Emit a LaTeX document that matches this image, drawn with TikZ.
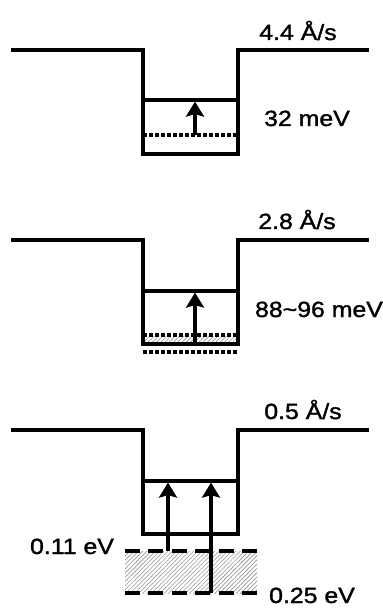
\documentclass[tikz,border=0pt]{standalone}
\usepackage{fontspec}
\setmainfont{Liberation Sans}
\newfontfamily\lblfont{Liberation Sans}[FakeBold=1.4]
\usetikzlibrary{arrows.meta,patterns.meta}
\tikzset{
  well/.style={line width=3.6pt, line join=miter},
  level/.style={line width=3.4pt},
  dots/.style={line width=3.2pt, dash pattern=on 3.5pt off 2.5pt},
  dashes/.style={line width=4.2pt, dash pattern=on 15pt off 8.4pt},
  hatch/.style={pattern={Lines[angle=45,distance=3pt,line width=0.6pt]}, pattern color=gray!85},
  excite/.style={-{Stealth[length=15pt,width=18pt,inset=2.5pt]}, line width=3.3pt, shorten >=1.6pt},
  lbl/.style={font=\lblfont\fontsize{22}{24}\selectfont, anchor=base, inner sep=0pt, xscale=1.13}
}

\begin{document}
\begin{tikzpicture}[x=1pt, y=-1pt]
\useasboundingbox (0,0) rectangle (382,609);
% 4.4 A/s
\draw[well] (11,50) -| (143,154) -| (238,50) -- (369,50);
\draw[level] (143,100) -- (238,100);
\draw[dots] (143,135) -- (238,135);
\coordinate (low1) at (195,135);
\coordinate (up1) at (195,100);
\draw[excite] (low1) -- (up1);
\node[lbl] (rate1) at (298,40) {4.4 Å/s};
\node[lbl] (gap1) at (307,126) {32 meV};

% 2.8 A/s
\fill[hatch] (143,336) rectangle (238,343);
\draw[dots] (143,335) -- (238,335);
\draw[dots] (143,352) -- (238,352);
\draw[well] (11,240) -| (143,344) -| (238,240) -- (369,240);
\draw[level] (143,291) -- (238,291);
\coordinate (low2) at (195,344);
\coordinate (up2) at (195,291);
\draw[excite] (low2) -- (up2);
\node[lbl] (rate2) at (297,229) {2.8 Å/s};
\node[lbl] (gap2) at (319,317) {88\textasciitilde96 meV};

% 0.5 A/s
\draw[well] (11,430) -| (143,534) -| (238,430) -- (369,430);
\draw[level] (143,481) -- (238,481);
\fill[hatch] (125,551) rectangle (257,593);
\draw[dashes] (125,551) -- (257,551);
\draw[dashes] (125,593) -- (257,593);
\coordinate (low3a) at (168,551);
\coordinate (up3a) at (168,481);
\coordinate (low3b) at (211,593);
\coordinate (up3b) at (211,481);
\draw[excite] (low3a) -- (up3a);
\draw[excite] (low3b) -- (up3b);
\node[lbl] (rate3) at (303,419) {0.5 Å/s};
\node[lbl] (trap1) at (72,554) {0.11 eV};
\node[lbl] (trap2) at (312,603) {0.25 eV};
\end{tikzpicture}
\end{document}
